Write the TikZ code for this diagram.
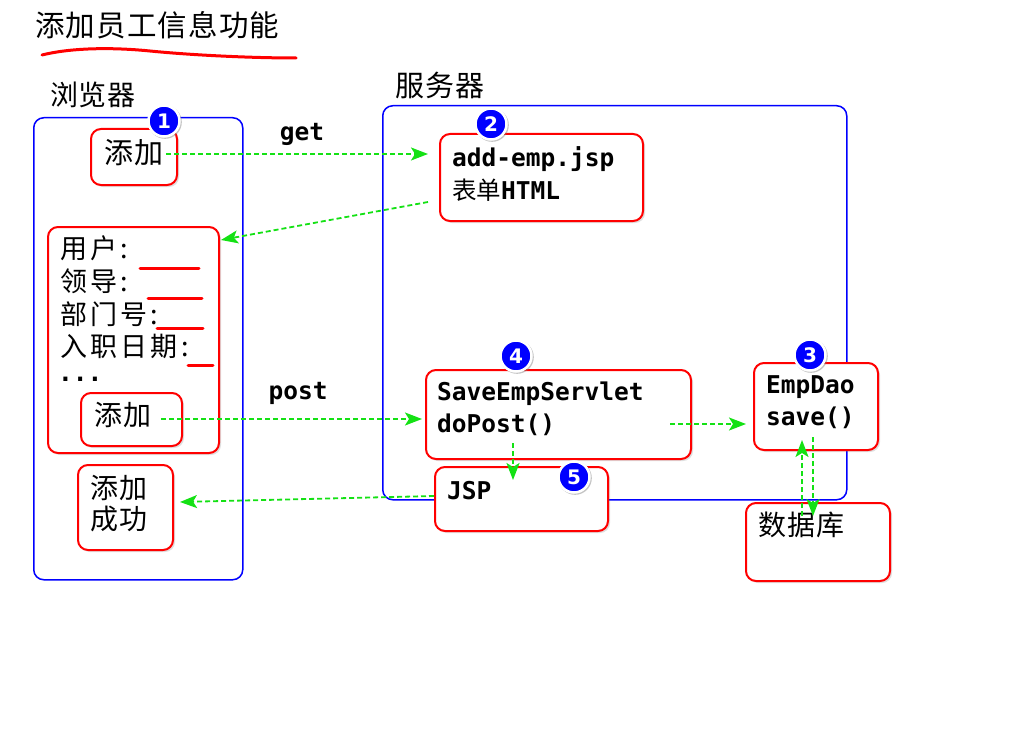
\documentclass[tikz,border=0pt]{standalone}
\usepackage{fontspec}
\setmainfont{Noto Sans CJK SC}
\setmonofont{DejaVu Sans Mono}
\newfontfamily\badgef{DejaVu Sans}
\usetikzlibrary{arrows.meta,shadows}
\definecolor{gline}{RGB}{20,225,20}
\tikzset{
  bluebox/.style={draw=blue, line width=1.5pt, rounded corners=10pt, anchor=north west, inner sep=0pt},
  redbox/.style={draw=red, fill=white, line width=2pt, rounded corners=10pt, anchor=north west, inner sep=0pt,
     drop shadow={opacity=0.25, shadow xshift=2pt, shadow yshift=-2pt}},
  cjkbig/.style={anchor=west, inner sep=0pt, font=\fontsize{29}{34}\selectfont\addfontfeature{LetterSpace=4}},
  cjkmid/.style={anchor=west, inner sep=0pt, font=\fontsize{28}{32}\selectfont\addfontfeature{LetterSpace=4}},
  cjksm/.style={anchor=west, inner sep=0pt, font=\fontsize{27}{30}\selectfont\addfontfeature{LetterSpace=12}},
  monotxt/.style={anchor=west, inner sep=0pt, font=\ttfamily\bfseries\fontsize{24.5}{28}\selectfont},
  garrow/.style={draw=gline, line width=1.8pt, dash pattern=on 5pt off 3pt, -{Stealth[length=17pt,width=13pt,inset=4pt]}},
  badge/.style={circle, fill=blue, draw=white, line width=2.5pt, minimum size=31pt, inner sep=0pt, text=white,
     font=\badgef\bfseries\fontsize{20}{20}\selectfont,
     drop shadow={opacity=0.45, shadow xshift=1pt, shadow yshift=-1pt, shadow scale=1.08}},
  uline/.style={draw=red, line width=3pt, line cap=round}
}
\begin{document}
\begin{tikzpicture}[x=1pt,y=-1pt]
\useasboundingbox (0,0) rectangle (1024,738);
% title
\node[cjkbig, font=\fontsize{29.5}{34}\selectfont\addfontfeature{LetterSpace=4}] (title) at (35,25) {添加员工信息功能};
\draw[uline] (42,55) .. controls (70,48) and (110,47) .. (150,51) .. controls (190,55) and (250,58) .. (296,58);
% group labels
\node[cjkbig, font=\fontsize{28}{34}\selectfont\addfontfeature{LetterSpace=2}] (lbrowser) at (50,95) {浏览器};
\node[cjkbig] (lserver) at (395,85) {服务器};
% blue boxes
\node[bluebox, minimum width=209pt, minimum height=462pt] (browser) at (33,117) {};
\node[bluebox, minimum width=464pt, minimum height=394pt] (server) at (382,105) {};
% red boxes
\node[redbox, minimum width=86pt, minimum height=56pt] (add1) at (90,128) {};
\node[cjkbig] (add1t) at (104,153) {添加};
\node[redbox, minimum width=203pt, minimum height=87pt] (jsp) at (439,133) {};
\node[monotxt] (jspa) at (452,159) {add-emp.jsp};
\node[monotxt] (jspb) at (452,190) {{\rmfamily\mdseries 表单}HTML};
\node[redbox, minimum width=171pt, minimum height=226pt] (form) at (47,226) {};
\node[cjksm] (f1) at (60,248) {用户:};
\node[cjksm] (f2) at (60,281) {领导:};
\node[cjksm] (f3) at (60,314) {部门号:};
\node[cjksm] (f4) at (60,346) {入职日期:};
\node[monotxt] (f5) at (58,379) {...};
\draw[uline] (140,268) -- (199,268);
\draw[uline] (148,298) -- (202,298);
\draw[uline] (157,328) -- (203,328);
\draw[uline] (188,365) -- (213,365);
\node[redbox, minimum width=101pt, minimum height=53pt] (add2) at (80,392) {};
\node[cjkmid] (add2t) at (94,415) {添加};
\node[redbox, minimum width=95pt, minimum height=85pt] (succ) at (77,464) {};
\node[cjkmid] (succa) at (90,488) {添加};
\node[cjkmid] (succb) at (90,519) {成功};
\node[redbox, minimum width=265pt, minimum height=89pt] (servlet) at (425,369) {};
\node[monotxt] (sva) at (437,394) {SaveEmpServlet};
\node[monotxt] (svb) at (437,425) {doPost()};
\node[redbox, minimum width=124pt, minimum height=87pt] (dao) at (753,362) {};
\node[monotxt] (daoa) at (766,387) {EmpDao};
\node[monotxt] (daob) at (766,418) {save()};
\node[redbox, minimum width=173pt, minimum height=64pt] (jsp2) at (434,466) {};
\node[monotxt] (jsp2t) at (447,491) {JSP};
\node[redbox, minimum width=144pt, minimum height=78pt] (db) at (745,502) {};
\node[cjkmid] (dbt) at (758,525) {数据库};
% labels
\node[monotxt, anchor=center] (lget) at (302,134) {get};
\node[monotxt, anchor=center] (lpost) at (298,393) {post};
% arrows
\draw[garrow] ([shift={(76,26)}]add1.north west) -- ([shift={(-11,21)}]jsp.north west);
\draw[garrow] ([shift={(-11,69)}]jsp.north west) -- ([shift={(1,14)}]form.north east);
\draw[garrow] ([shift={(81,27)}]add2.north west) -- ([shift={(-3,50)}]servlet.north west);
\draw[garrow] ([shift={(245,55)}]servlet.north west) -- ([shift={(-7,62)}]dao.north west);
\draw[garrow] ([shift={(88,74)}]servlet.north west) -- ([shift={(79,14)}]jsp2.north west);
\draw[garrow] ([shift={(0,30)}]jsp2.north west) -- ([shift={(6,38)}]succ.north east);
\draw[garrow] ([shift={(57,14)}]db.north west) -- ([shift={(49,78)}]dao.north west);
\draw[garrow] ([shift={(60,75)}]dao.north west) -- ([shift={(68,14)}]db.north west);
% badges
\node[badge] (b1) at (164,121) {1};
\node[badge] (b2) at (491,124) {2};
\node[badge] (b3) at (810,355) {3};
\node[badge] (b4) at (516,356) {4};
\node[badge] (b5) at (574,477) {5};
\end{tikzpicture}
\end{document}
